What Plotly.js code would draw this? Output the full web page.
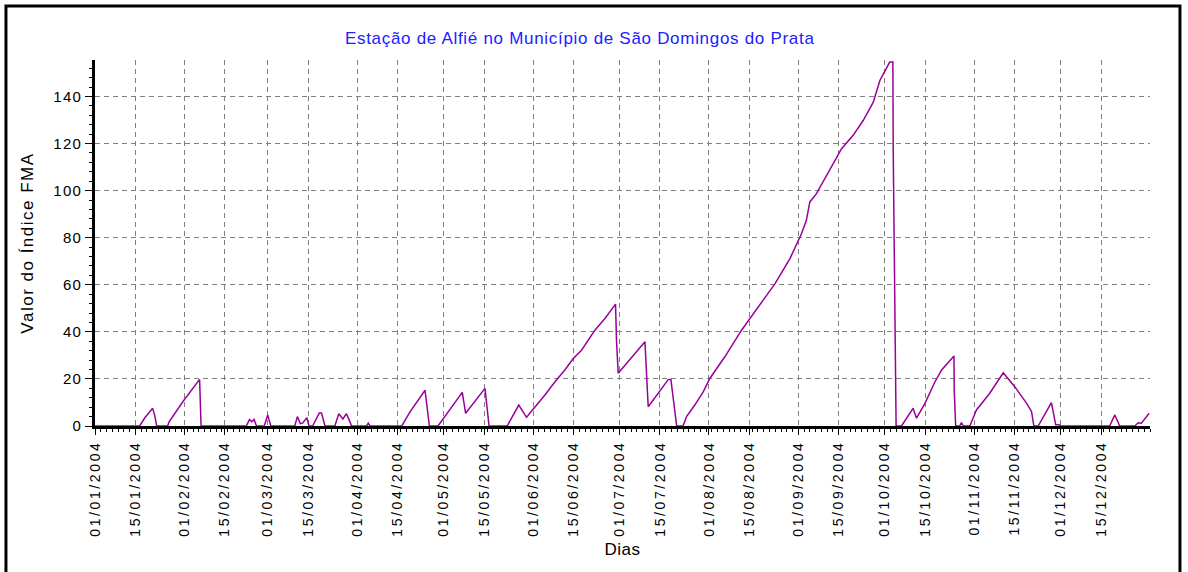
<!DOCTYPE html>
<html>
<head>
<meta charset="utf-8">
<script src="https://cdn.plot.ly/plotly-3.0.1.min.js"></script>
<style>
  html, body { margin: 0; padding: 0; background: #fff; }
  #chart { width: 1188px; height: 572px; }
  .xtick text { letter-spacing: 2.6px; }
  .ytick text { letter-spacing: 1.2px; }
  .gtitle { letter-spacing: 0.7px; }
  .ytitle { letter-spacing: 1.5px; }
  .xtitle { letter-spacing: 0.5px; }
</style>
</head>
<body>
<div id="chart"></div>
<script>
// ---- Data ----
const chartTitle = 'Estação de Alfié no Município de São Domingos do Prata';
const xTitle = 'Dias';
const yTitle = 'Valor do Índice FMA';

const dates = [
  '2004-01-01', '2004-01-16 12:00', '2004-01-18 07:00', '2004-01-21 00:00', '2004-01-21 17:00', '2004-01-22 10:00',
  '2004-01-26 05:00', '2004-01-26 17:00', '2004-01-31 14:00', '2004-02-06 07:00', '2004-02-06 19:00',
  '2004-02-22 12:00', '2004-02-23 14:00', '2004-02-24 10:00', '2004-02-25 05:00', '2004-02-26 00:00',
  '2004-02-28 17:00', '2004-02-29 22:00', '2004-03-01 10:00', '2004-03-02 00:00',
  '2004-03-10 07:00', '2004-03-11 05:00', '2004-03-12 05:00', '2004-03-13 00:00', '2004-03-14 12:00', '2004-03-15 05:00',
  '2004-03-16 12:00', '2004-03-18 19:00', '2004-03-19 14:00', '2004-03-20 19:00',
  '2004-03-24 05:00', '2004-03-25 14:00', '2004-03-27 00:00', '2004-03-28 05:00', '2004-03-29 05:00', '2004-03-30 00:00',
  '2004-04-04 05:00', '2004-04-04 19:00', '2004-04-05 10:00',
  '2004-04-16 10:00', '2004-04-19 07:00', '2004-04-24 12:00', '2004-04-26 00:00',
  '2004-04-29 00:00', '2004-05-07 10:00', '2004-05-08 14:00', '2004-05-15 07:00', '2004-05-16 17:00',
  '2004-05-23 00:00', '2004-05-27 00:00', '2004-05-29 17:00', '2004-06-01 14:00', '2004-06-05 02:00',
  '2004-06-08 14:00', '2004-06-12 00:00', '2004-06-14 22:00', '2004-06-17 19:00', '2004-06-22 10:00',
  '2004-06-25 22:00', '2004-06-29 14:00', '2004-06-29 22:00', '2004-06-30 12:00',
  '2004-07-09 19:00', '2004-07-10 22:00', '2004-07-17 22:00', '2004-07-18 19:00', '2004-07-20 19:00',
  '2004-07-23 00:00', '2004-07-24 05:00', '2004-07-27 02:00', '2004-07-30 00:00', '2004-08-01 07:00',
  '2004-08-06 12:00', '2004-08-12 07:00', '2004-08-18 02:00', '2004-08-23 22:00', '2004-08-29 02:00',
  '2004-09-02 02:00', '2004-09-03 19:00', '2004-09-05 00:00', '2004-09-07 07:00', '2004-09-11 22:00',
  '2004-09-16 00:00', '2004-09-20 00:00', '2004-09-23 12:00', '2004-09-27 00:00', '2004-09-29 07:00',
  '2004-10-02 17:00', '2004-10-03 19:00', '2004-10-03 22:00', '2004-10-04 10:00', '2004-10-04 22:00',
  '2004-10-06 19:00', '2004-10-10 19:00', '2004-10-12 00:00', '2004-10-14 22:00', '2004-10-18 10:00',
  '2004-10-20 17:00', '2004-10-25 00:00', '2004-10-25 02:00', '2004-10-25 14:00',
  '2004-10-27 00:00', '2004-10-27 14:00', '2004-10-28 05:00',
  '2004-10-30 12:00', '2004-11-01 19:00', '2004-11-06 10:00', '2004-11-11 02:00', '2004-11-15 02:00',
  '2004-11-19 05:00', '2004-11-20 22:00', '2004-11-21 17:00',
  '2004-11-23 05:00', '2004-11-27 19:00', '2004-11-29 07:00', '2004-11-30 12:00', '2004-12-01 00:00',
  '2004-12-18 00:00', '2004-12-19 19:00', '2004-12-21 12:00',
  '2004-12-26 17:00', '2004-12-27 22:00', '2004-12-29 00:00', '2004-12-31 17:00'
];

const fmaValues = [
  0, 0, 3.5, 7.5, 4.5, 0,
  0, 1.8, 10.5, 19.8, 0,
  0, 2.8, 1.8, 2.8, 0,
  0, 4.7, 2.5, 0,
  0, 4, 1, 1.2, 3.5, 0,
  0, 5.5, 5.5, 0,
  0, 5.2, 3, 5.2, 2.5, 0,
  0, 1.2, 0,
  0, 6, 15.2, 0,
  0, 14.3, 5.4, 16, 0,
  0, 8.9, 3.7, 7.9, 13.2,
  18.8, 23.8, 28.7, 32.2, 40.7,
  45.7, 51.8, 36.5, 22.4,
  35.8, 8.2, 19.8, 19.8, 0,
  0, 4, 8.9, 14.5, 20.2,
  29.4, 40.7, 50.6, 60.5, 71.1,
  81.7, 87.4, 95.2, 98.7, 108.6,
  117.8, 123.5, 129.8, 137.6, 146.8,
  154.6, 154.6, 117, 40.7, 0,
  0, 7.5, 3.3, 9.6, 18.8,
  23.8, 29.7, 15.3, 0,
  0, 1.5, 0,
  0, 6.8, 13.9, 22.6, 16.7,
  9.6, 6.1, 0,
  0, 9.9, 0.5, 0.5, 0,
  0, 4.7, 0,
  0, 1.4, 1.2, 5.4
];

const tickDates = [
  '2004-01-01', '2004-01-15', '2004-02-01', '2004-02-15', '2004-03-01', '2004-03-15',
  '2004-04-01', '2004-04-15', '2004-05-01', '2004-05-15', '2004-06-01', '2004-06-15',
  '2004-07-01', '2004-07-15', '2004-08-01', '2004-08-15', '2004-09-01', '2004-09-15',
  '2004-10-01', '2004-10-15', '2004-11-01', '2004-11-15', '2004-12-01', '2004-12-15'
];
const tickLabels = [
  '01/01/2004', '15/01/2004', '01/02/2004', '15/02/2004', '01/03/2004', '15/03/2004',
  '01/04/2004', '15/04/2004', '01/05/2004', '15/05/2004', '01/06/2004', '15/06/2004',
  '01/07/2004', '15/07/2004', '01/08/2004', '15/08/2004', '01/09/2004', '15/09/2004',
  '01/10/2004', '15/10/2004', '01/11/2004', '15/11/2004', '01/12/2004', '15/12/2004'
];
const yTickVals = [0, 20, 40, 60, 80, 100, 120, 140];
const yTickLabels = ['0', '20', '40', '60', '80', '100', '120', '140'];

// ---- Chart ----
const FONT = '"Liberation Sans", Arial, sans-serif';
const DAY = 86400000;

const trace = {
  type: 'scatter',
  mode: 'lines',
  x: dates,
  y: fmaValues,
  line: { color: '#990099', width: 1.5 },
  hoverinfo: 'skip'
};

const gridStyle = { showgrid: true, gridcolor: '#808080', gridwidth: 1, griddash: '5px,4px' };

const layout = {
  width: 1188,
  height: 572,
  margin: { l: 95, r: 38, t: 60, b: 146, pad: 0 },
  paper_bgcolor: '#ffffff',
  plot_bgcolor: '#ffffff',
  showlegend: false,
  font: { family: FONT, color: '#000000' },
  title: {
    text: chartTitle,
    font: { family: FONT, size: 17, color: '#2020ff' },
    x: 0.488, xref: 'container', xanchor: 'center',
    y: 0.934, yref: 'container', yanchor: 'middle'
  },
  xaxis: Object.assign({
    type: 'date',
    range: ['2004-01-01', '2005-01-01'],
    tickmode: 'array',
    tickvals: tickDates,
    ticktext: tickLabels,
    tickangle: -90,
    tickfont: { family: FONT, size: 14, color: '#000000' },
    ticks: 'outside', ticklen: 6, tickwidth: 1, tickcolor: '#000000',
    showline: true, linecolor: '#000000', linewidth: 3,
    zeroline: false,
    minor: { tick0: '2004-01-01', dtick: 2 * DAY, ticks: 'outside', ticklen: 3, tickwidth: 1, tickcolor: '#000000', showgrid: false },
    title: { text: xTitle, font: { family: FONT, size: 17, color: '#000000' }, standoff: 8 }
  }, gridStyle),
  yaxis: Object.assign({
    range: [0, 155.5],
    tickmode: 'array',
    tickvals: yTickVals,
    ticktext: yTickLabels,
    tickfont: { family: FONT, size: 15, color: '#000000' },
    ticks: 'outside', ticklen: 7, tickwidth: 1, tickcolor: '#000000',
    showline: true, linecolor: '#000000', linewidth: 3,
    zeroline: false,
    minor: { tick0: 0, dtick: 4, ticks: 'outside', ticklen: 3, tickwidth: 1, tickcolor: '#000000', showgrid: false },
    title: { text: yTitle, font: { family: FONT, size: 17, color: '#000000' }, standoff: 16 }
  }, gridStyle),
  shapes: [{
    type: 'rect', xref: 'paper', yref: 'paper',
    x0: -0.0844, x1: 1.0284, y0: -0.5, y1: 1.1475,
    line: { color: '#000000', width: 3 },
    fillcolor: 'rgba(0,0,0,0)',
    layer: 'above'
  }]
};

Plotly.newPlot('chart', [trace], layout, { displayModeBar: false, staticPlot: true });
</script>
</body>
</html>
